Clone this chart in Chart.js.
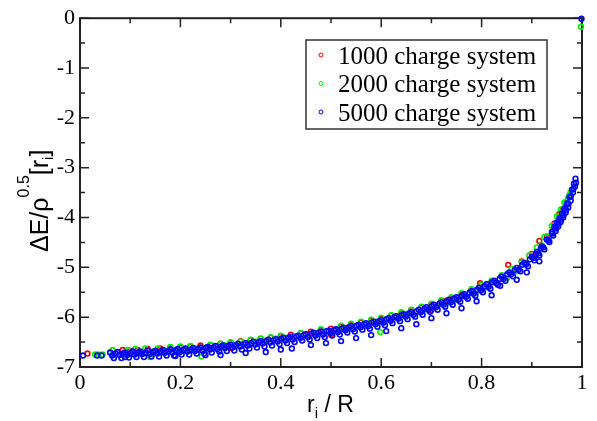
<!DOCTYPE html>
<html>
<head>
<meta charset="utf-8">
<script src="https://cdn.jsdelivr.net/npm/chart.js@4.4.0/dist/chart.umd.min.js"></script>
<style>
  body { margin: 0; background: #fff; }
  #wrap { width: 597px; height: 421px; }
</style>
</head>
<body>
<div id="wrap"><canvas id="myChart"></canvas></div>
<script>
// legend labels
const seriesNames = ['1000 charge system', '2000 charge system', '5000 charge system'];

// tick labels
const xTicks = [0, 0.2, 0.4, 0.6, 0.8, 1];
const yTicks = [-7, -6, -5, -4, -3, -2, -1, 0];

// 1000 charge system
const x1000 = [0.015, 0.085, 0.10, 0.115, 0.135, 0.16, 0.18, 0.20, 0.22, 0.24, 0.26, 0.28, 0.30, 0.32, 0.34,
  0.36, 0.38, 0.40, 0.42, 0.44, 0.46, 0.48, 0.50, 0.52, 0.54, 0.56, 0.58, 0.60, 0.62, 0.64, 0.66, 0.68,
  0.70, 0.72, 0.73, 0.743, 0.76, 0.78, 0.797, 0.82, 0.84, 0.853, 0.88, 0.90, 0.915, 0.93, 0.945, 0.955, 0.962,
  0.30, 0.50, 0.70];
const y1000 = [-6.73, -6.66, -6.68, -6.66, -6.64, -6.63, -6.62, -6.61, -6.59, -6.57, -6.56, -6.53, -6.51, -6.48, -6.46,
  -6.43, -6.41, -6.38, -6.35, -6.32, -6.29, -6.26, -6.23, -6.19, -6.15, -6.11, -6.07, -6.03, -5.97, -5.92, -5.86, -5.81,
  -5.75, -5.69, -5.67, -5.62, -5.55, -5.46, -5.32, -5.28, -5.17, -4.95, -4.88, -4.73, -4.47, -4.38, -4.12, -3.93, -3.85,
  -6.62, -6.35, -5.86];

// 2000 charge system
const x2000 = [0.030, 0.036, 0.045, 0.12, 0.14, 0.145, 0.17, 0.19, 0.21, 0.23, 0.242, 0.25, 0.27, 0.29, 0.31,
  0.33, 0.35, 0.37, 0.39, 0.41, 0.43, 0.45, 0.47, 0.49, 0.51, 0.53, 0.55, 0.57, 0.59, 0.598, 0.61, 0.63,
  0.65, 0.67, 0.69, 0.71, 0.73, 0.75, 0.77, 0.79, 0.81, 0.83, 0.85, 0.87, 0.89, 0.905, 0.92, 0.935, 0.945,
  0.955, 0.962, 0.968, 0.972, 0.975, 0.977, 0.998];
const y2000 = [-6.75, -6.75, -6.75, -6.71, -6.80, -6.69, -6.68, -6.66, -6.66, -6.63, -6.79, -6.61, -6.59, -6.57, -6.55,
  -6.51, -6.49, -6.47, -6.43, -6.41, -6.38, -6.35, -6.32, -6.29, -6.26, -6.22, -6.18, -6.14, -6.09, -6.30, -6.05, -5.99,
  -5.95, -5.89, -5.84, -5.78, -5.72, -5.65, -5.58, -5.49, -5.40, -5.32, -5.22, -5.08, -4.92, -4.76, -4.56, -4.38, -4.20,
  -4.02, -3.88, -3.75, -3.62, -3.55, -3.50, -0.17];
// 2000 charge system, top edge seen above the blue band
const x2000b = [0.065, 0.095, 0.11, 0.13, 0.155, 0.18, 0.20, 0.22, 0.26, 0.28, 0.30, 0.32, 0.34, 0.36, 0.38,
  0.40, 0.44, 0.48, 0.52, 0.54, 0.56, 0.58, 0.60, 0.62, 0.64, 0.66, 0.68, 0.70, 0.72, 0.74, 0.76, 0.78,
  0.80, 0.82, 0.84, 0.86, 0.88, 0.895, 0.91, 0.925, 0.94, 0.95, 0.958, 0.965];
const y2000b = [-6.66, -6.66, -6.64, -6.63, -6.63, -6.60, -6.59, -6.58, -6.55, -6.53, -6.50, -6.49, -6.45, -6.43, -6.40,
  -6.37, -6.32, -6.24, -6.17, -6.13, -6.09, -6.05, -6.01, -5.96, -5.90, -5.85, -5.79, -5.73, -5.66, -5.60, -5.52, -5.44,
  -5.35, -5.27, -5.16, -5.03, -4.90, -4.76, -4.60, -4.39, -4.17, -3.98, -3.84, -3.70];

// 5000 charge system, upper edge of the band
const x5000a = [0.006, 0.034, 0.043, 0.060, 0.075, 0.090, 0.105, 0.120, 0.135, 0.150, 0.165, 0.180, 0.195, 0.210,
  0.225, 0.240, 0.255, 0.270, 0.285, 0.300, 0.315, 0.330, 0.345, 0.360, 0.375, 0.390, 0.405, 0.420, 0.435,
  0.450, 0.465, 0.480, 0.495, 0.510, 0.525, 0.540, 0.555, 0.570, 0.585, 0.600, 0.615, 0.630, 0.645, 0.660,
  0.675, 0.690, 0.705, 0.720, 0.735, 0.750, 0.765, 0.780, 0.795, 0.810, 0.825, 0.840, 0.855, 0.870, 0.885,
  0.900, 0.910, 0.920, 0.930, 0.940, 0.945, 0.950, 0.955, 0.960, 0.965, 0.970, 0.975, 0.980, 0.984, 0.987, 0.999];
const y5000a = [-6.77, -6.77, -6.77, -6.71, -6.70, -6.71, -6.69, -6.69, -6.67, -6.68, -6.66, -6.65, -6.64, -6.63,
  -6.62, -6.61, -6.60, -6.58, -6.57, -6.55, -6.53, -6.52, -6.49, -6.48, -6.45, -6.44, -6.41, -6.39, -6.37,
  -6.34, -6.31, -6.29, -6.27, -6.24, -6.21, -6.18, -6.15, -6.12, -6.09, -6.06, -6.02, -5.98, -5.94, -5.90,
  -5.85, -5.80, -5.75, -5.70, -5.65, -5.60, -5.54, -5.48, -5.41, -5.34, -5.27, -5.19, -5.10, -5.01, -4.91,
  -4.79, -4.69, -4.58, -4.44, -4.29, -4.19, -4.10, -4.01, -3.92, -3.82, -3.72, -3.59, -3.44, -3.32, -3.22, -0.01];

// 5000 charge system, middle of the band
const x5000d = [0.064, 0.079, 0.094, 0.109, 0.124, 0.139, 0.154, 0.169, 0.184, 0.199, 0.214, 0.229, 0.244, 0.259,
  0.274, 0.289, 0.304, 0.319, 0.334, 0.349, 0.364, 0.379, 0.394, 0.409, 0.424, 0.439, 0.454, 0.469, 0.484,
  0.499, 0.514, 0.529, 0.544, 0.559, 0.574, 0.589, 0.604, 0.619, 0.634, 0.649, 0.664, 0.679, 0.694, 0.709,
  0.724, 0.739, 0.754, 0.769, 0.784, 0.799, 0.814, 0.829, 0.844, 0.859, 0.874, 0.889, 0.904, 0.913, 0.923,
  0.933, 0.941, 0.948, 0.953, 0.958, 0.963, 0.968, 0.973, 0.978, 0.983];
const y5000d = [-6.77, -6.76, -6.76, -6.75, -6.74, -6.74, -6.73, -6.72, -6.71, -6.70, -6.69, -6.68, -6.67, -6.65,
  -6.64, -6.62, -6.61, -6.59, -6.57, -6.55, -6.53, -6.51, -6.49, -6.47, -6.45, -6.42, -6.40, -6.37, -6.35,
  -6.32, -6.30, -6.26, -6.24, -6.20, -6.18, -6.14, -6.11, -6.07, -6.03, -5.99, -5.95, -5.90, -5.85, -5.80,
  -5.75, -5.70, -5.65, -5.59, -5.53, -5.46, -5.39, -5.31, -5.23, -5.14, -5.05, -4.94, -4.81, -4.72, -4.60,
  -4.46, -4.32, -4.22, -4.13, -4.04, -3.95, -3.85, -3.73, -3.57, -3.42];

// 5000 charge system, between middle and upper edge
const x5000e = [0.071, 0.086, 0.101, 0.116, 0.131, 0.146, 0.161, 0.176, 0.191, 0.206, 0.221, 0.236, 0.251, 0.266,
  0.281, 0.296, 0.311, 0.326, 0.341, 0.356, 0.371, 0.386, 0.401, 0.416, 0.431, 0.446, 0.461, 0.476, 0.491,
  0.506, 0.521, 0.536, 0.551, 0.566, 0.581, 0.596, 0.611, 0.626, 0.641, 0.656, 0.671, 0.686, 0.701, 0.716,
  0.731, 0.746, 0.761, 0.776, 0.791, 0.806, 0.821, 0.836, 0.851, 0.866, 0.881, 0.896, 0.908, 0.918];
const y5000e = [-6.73, -6.73, -6.72, -6.71, -6.71, -6.70, -6.69, -6.68, -6.67, -6.66, -6.65, -6.64, -6.62, -6.61,
  -6.59, -6.58, -6.56, -6.54, -6.52, -6.50, -6.48, -6.46, -6.43, -6.41, -6.39, -6.36, -6.33, -6.31, -6.28,
  -6.26, -6.23, -6.20, -6.17, -6.14, -6.11, -6.08, -6.04, -6.00, -5.96, -5.92, -5.88, -5.83, -5.78, -5.73,
  -5.68, -5.63, -5.57, -5.51, -5.45, -5.38, -5.30, -5.23, -5.14, -5.05, -4.95, -4.84, -4.74, -4.62];

// 5000 charge system, lower edge of the band
const x5000b = [0.0675, 0.0825, 0.0975, 0.1125, 0.1275, 0.1425, 0.1575, 0.1725, 0.1875, 0.2025, 0.2175, 0.2325,
  0.2475, 0.2625, 0.2775, 0.2925, 0.3075, 0.3225, 0.3375, 0.3525, 0.3675, 0.3825, 0.3975, 0.4125, 0.4275,
  0.4425, 0.4575, 0.4725, 0.4875, 0.5025, 0.5175, 0.5325, 0.5475, 0.5625, 0.5775, 0.5925, 0.6075, 0.6225,
  0.6375, 0.6525, 0.6675, 0.6825, 0.6975, 0.7125, 0.7275, 0.7425, 0.7575, 0.7725, 0.7875, 0.8025, 0.8175,
  0.8325, 0.8475, 0.8625, 0.8775, 0.8925, 0.905, 0.915, 0.925, 0.935, 0.9425, 0.9475, 0.9525, 0.9575, 0.9625,
  0.9675, 0.9725, 0.9775, 0.982, 0.986, 0.988];
const y5000b = [-6.82, -6.82, -6.81, -6.80, -6.80, -6.79, -6.79, -6.77, -6.77, -6.75, -6.75, -6.73,
  -6.73, -6.71, -6.69, -6.68, -6.67, -6.65, -6.63, -6.61, -6.59, -6.57, -6.54, -6.52, -6.50,
  -6.47, -6.45, -6.42, -6.40, -6.37, -6.35, -6.31, -6.29, -6.25, -6.23, -6.19, -6.16, -6.12,
  -6.08, -6.04, -5.99, -5.95, -5.89, -5.85, -5.79, -5.75, -5.69, -5.63, -5.57, -5.50, -5.43,
  -5.35, -5.27, -5.18, -5.08, -4.98, -4.86, -4.76, -4.64, -4.49, -4.36, -4.27, -4.18, -4.09, -4.00,
  -3.90, -3.80, -3.66, -3.50, -3.38, -3.30];

// 5000 charge system, loose points under the band
const x5000c = [0.09, 0.19, 0.25, 0.28, 0.33, 0.37, 0.40, 0.422, 0.46, 0.49, 0.52, 0.55, 0.58, 0.61, 0.64,
  0.67, 0.70, 0.73, 0.76, 0.79, 0.82, 0.837, 0.87, 0.89, 0.915];
const y5000c = [-6.80, -6.78, -6.76, -6.76, -6.72, -6.70, -6.65, -6.63, -6.56, -6.52, -6.48, -6.42, -6.36, -6.28, -6.22,
  -6.14, -6.02, -5.92, -5.82, -5.68, -5.56, -5.37, -5.25, -5.10, -4.88];

const toPoints = (xs, ys) => xs.map((x, i) => ({ x: x, y: ys[i] }));
const seriesColors = ['#ff0000', '#00ee00', '#0000ff'];

const framePlugin = {
    id: 'frame',
    beforeDatasetsDraw(chart) {
        const { ctx, chartArea: a, scales } = chart;
        ctx.save();
        ctx.strokeStyle = '#222';
        ctx.lineWidth = 2;
        ctx.strokeRect(a.left, a.top, a.right - a.left, a.bottom - a.top);
        ctx.lineWidth = 1.5;
        ctx.beginPath();
        for (let k = 0; k <= 10; k++) {
            const px = scales.x.getPixelForValue(k / 10);
            const len = k % 2 === 0 ? 9 : 5;
            ctx.moveTo(px, a.bottom); ctx.lineTo(px, a.bottom - len);
            ctx.moveTo(px, a.top); ctx.lineTo(px, a.top + len);
        }
        for (let k = 0; k <= 14; k++) {
            const py = scales.y.getPixelForValue(-7 + k / 2);
            const len = k % 2 === 0 ? 9 : 5;
            ctx.moveTo(a.left, py); ctx.lineTo(a.left + len, py);
            ctx.moveTo(a.right, py); ctx.lineTo(a.right - len, py);
        }
        ctx.stroke();
        ctx.restore();
    },
    afterDraw(chart) {
        const ctx = chart.ctx;
        ctx.save();
        // legend box
        ctx.strokeStyle = '#333';
        ctx.lineWidth = 1.5;
        ctx.fillStyle = '#fff';
        ctx.fillRect(306, 40, 241, 89);
        ctx.strokeRect(306, 40, 241, 89);
        ctx.font = '25px "Liberation Serif"';
        ctx.textBaseline = 'alphabetic';
        ctx.textAlign = 'left';
        seriesNames.forEach((name, i) => {
            const cy = 55 + i * 28.5;
            ctx.beginPath();
            ctx.strokeStyle = seriesColors[i];
            ctx.lineWidth = 1;
            ctx.arc(321, cy, 2, 0, Math.PI * 2);
            ctx.stroke();
            ctx.fillStyle = '#000';
            ctx.fillText(name, 338, cy + 8.5);
        });

        // x axis title: r_i / R
        ctx.fillStyle = '#000';
        let px = 307;
        ctx.font = '23px "Liberation Sans"';
        ctx.fillText('r', px, 412);
        px += ctx.measureText('r').width;
        ctx.font = '15px "Liberation Sans"';
        ctx.fillText('i', px, 418);
        px += ctx.measureText('i').width;
        ctx.font = '23px "Liberation Sans"';
        ctx.fillText(' / R', px, 412);

        // y axis title: ΔE/ρ^0.5[r_i]
        ctx.translate(48, 252);
        ctx.rotate(-Math.PI / 2);
        let p = 0;
        const part = (txt, size, dy) => {
            ctx.font = size + 'px "Liberation Sans"';
            ctx.fillText(txt, p, dy);
            p += ctx.measureText(txt).width;
        };
        part('\u0394E/\u03c1', 25, 0);
        part('0.5', 16, -19);
        part('[r', 25, 0);
        part('i', 15, 5);
        part(']', 25, 0);
        ctx.restore();
    }
};

const ctx = document.getElementById('myChart').getContext('2d');
const pointStyle = (i) => ({
    borderColor: seriesColors[i],
    backgroundColor: 'transparent',
    pointRadius: 2.4,
    pointBorderWidth: 1.6,
    showLine: false,
    clip: false
});

window.myChart = new Chart(ctx, {
    type: 'scatter',
    data: {
        datasets: [
            { label: seriesNames[0], data: toPoints(x1000, y1000), order: 2, ...pointStyle(0) },
            {
                label: seriesNames[1],
                data: toPoints(x2000, y2000).concat(toPoints(x2000b, y2000b)),
                order: 1,
                ...pointStyle(1)
            },
            {
                label: seriesNames[2],
                data: toPoints(x5000a, y5000a).concat(
                    toPoints(x5000d, y5000d),
                    toPoints(x5000e, y5000e),
                    toPoints(x5000b, y5000b),
                    toPoints(x5000c, y5000c)),
                order: 0,
                ...pointStyle(2)
            }
        ]
    },
    options: {
        responsive: true,
        maintainAspectRatio: false,
        animation: false,
        layout: { padding: { top: 15, right: 15, left: 0, bottom: 0 } },
        plugins: {
            legend: { display: false },
            tooltip: { enabled: false }
        },
        scales: {
            x: {
                type: 'linear',
                min: 0,
                max: 1,
                afterFit: (scale) => { scale.height = 54; },
                afterBuildTicks: (scale) => { scale.ticks = xTicks.map(v => ({ value: v })); },
                grid: { display: false, drawTicks: false },
                border: { display: false },
                ticks: {
                    padding: 3,
                    color: '#000',
                    font: { family: '"Liberation Serif"', size: 22 },
                    callback: (v) => String(v)
                }
            },
            y: {
                type: 'linear',
                min: -7,
                max: 0,
                afterFit: (scale) => { scale.width = 80; },
                afterBuildTicks: (scale) => { scale.ticks = yTicks.map(v => ({ value: v })); },
                grid: { display: false, drawTicks: false },
                border: { display: false },
                ticks: {
                    padding: 5,
                    color: '#000',
                    font: { family: '"Liberation Serif"', size: 22 },
                    callback: (v) => String(v)
                }
            }
        }
    },
    plugins: [framePlugin]
});
</script>
</body>
</html>
